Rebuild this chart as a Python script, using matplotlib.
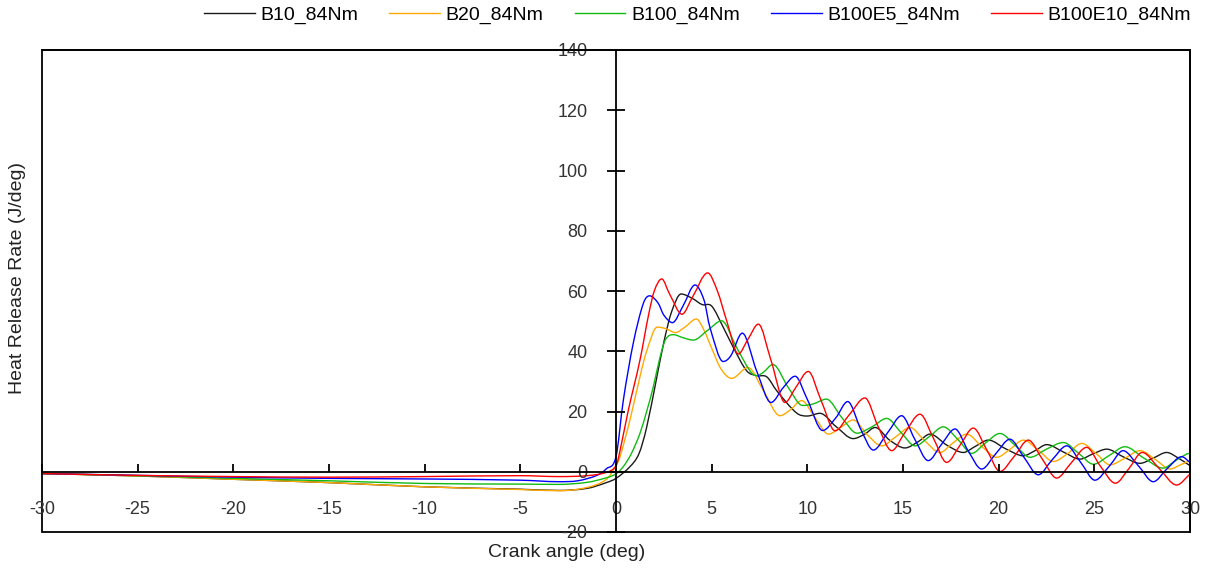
import matplotlib

matplotlib.use("Agg")

import numpy as np
from matplotlib import pyplot as plt
from matplotlib.lines import Line2D
from matplotlib.patches import PathPatch, Rectangle
from matplotlib.path import Path

plt.rcParams.update(
    {
        "font.family": ["Liberation Sans", "DejaVu Sans"],
        "font.size": 13,
        "axes.unicode_minus": False,
    }
)

# crank angle (deg) / heat release rate (J/deg)
b10_x = [-30, -25, -20, -15, -10, -5, -3, -1.5, -0.5, 0, 0.73, 1.2, 1.6, 2.13, 2.5, 2.9,
         3.4, 4.0, 4.5, 5.0, 5.61, 6.13, 6.83, 7.35, 7.88, 8.4, 9.44, 10.0, 10.66, 11.5,
         12.4, 13.0, 13.54, 14.3, 15.1, 15.8, 16.41, 17.3, 18.15, 18.8, 19.46, 20.4,
         21.29, 21.9, 22.51, 23.4, 24.25, 24.95, 25.65, 26.5, 27.39, 28.1, 28.78, 29.4, 30]
b10_y = [-0.6, -1.4, -2.5, -3.6, -5.0, -5.8, -6.2, -5.5, -3.6, -2.2, 1.7, 6, 14.7, 31.3, 43, 53,
         59.0, 57.5, 55.5, 55.0, 47.9, 41.3, 33.5, 31.9, 31.5, 26.9, 19.5, 18.5, 19.4, 15,
         11.0, 12.5, 14.7, 10.5, 7.9, 10, 12.5, 8.8, 6.4, 8.5, 10.5, 7.5,
         5.3, 7, 9.0, 6.5, 4.2, 6, 7.5, 5, 2.8, 4.6, 6.4, 4.5, 2.0]

b20_x = [-30, -25, -20, -15, -10, -5, -3, -1.5, -0.5, 0, 0.21, 0.73, 1.25, 1.6, 2.15, 2.6,
         3.1, 3.6, 4.2, 4.6, 5.0, 5.5, 6.05, 6.9, 7.7, 8.57, 9.1, 9.7, 10.4, 11.1, 11.8,
         12.4, 13.1, 13.89, 14.6, 15.37, 16.1, 16.93, 17.6, 18.33, 19.1, 19.9, 20.6, 21.29,
         22.1, 22.86, 23.6, 24.34, 25.1, 25.82, 26.6, 27.39, 28.2, 28.96, 29.5, 30]
b20_y = [-0.6, -1.4, -2.5, -3.6, -5.0, -5.9, -6.3, -5.2, -2.5, 2.0, 5, 17.2, 31.5, 40, 48.0, 47.5,
         46.2, 48, 50.7, 47, 41, 34, 31.0, 34.6, 27, 18.6, 20.5, 23.6, 18, 12.5, 15,
         17.2, 12.5, 8.6, 11.5, 14.7, 10.5, 6.4, 9.5, 12.5, 8.5, 4.8, 7.5, 10.5,
         7, 3.4, 6, 9.4, 6, 2.3, 4.5, 7.0, 4, 0.9, 2.3, 3.7]

b100_x = [-30, -25, -20, -15, -10, -5, -3, -1.5, -0.5, 0, 0.38, 0.8, 1.25, 1.6, 1.95, 2.3,
          2.6, 3.0, 3.5, 4.04, 4.8, 5.52, 6.3, 7.0, 7.35, 7.7, 8.2, 9.0, 9.75, 10.3, 11.0,
          11.8, 12.6, 13.4, 14.15, 14.9, 15.63, 16.4, 17.1, 17.9, 18.59, 19.3, 20.07, 20.9,
          21.64, 22.5, 23.38, 24.2, 24.95, 25.8, 26.6, 27.6, 28.6, 29.2, 29.83, 30]
b100_y = [-0.6, -1.3, -2.2, -3.0, -3.9, -4.1, -4.2, -3.5, -2, -0.7, 1.7, 6, 12.7, 20, 28.2, 38,
          44, 45.5, 44.5, 43.7, 47, 50.1, 41.3, 33.5, 31.9, 33, 35.6, 28, 22, 22.5, 24.1,
          18, 12.8, 15, 17.7, 13, 8.6, 11.8, 14.9, 10.5, 6.1, 9.5, 12.7, 8.5,
          4.8, 7.5, 9.7, 6, 2.5, 5.5, 8.3, 4.5, 1.2, 3.5, 5.9, 6.0]

b100e5_x = [-30, -25, -20, -15, -10, -5, -3, -2, -1, -0.5, 0, 0.38, 0.9, 1.43, 1.76, 2.2,
            2.5, 2.95, 3.5, 4.13, 4.6, 4.91, 5.6, 6.0, 6.6, 7.35, 8.1, 8.75, 9.36, 10.0,
            10.8, 11.5, 12.11, 12.8, 13.45, 14.2, 14.93, 15.6, 16.32, 17.0, 17.72, 18.4,
            19.11, 19.85, 20.59, 21.3, 22.07, 22.8, 23.56, 24.3, 25.03, 25.8, 26.5, 27.3,
            28.08, 28.8, 29.57, 30]
b100e5_y = [-0.6, -1.2, -1.8, -2.2, -2.4, -2.8, -3.3, -3.0, -1.2, 1.0, 5.0, 23.6, 42.6, 55.9, 58.4, 56,
            52, 49.5, 55, 62, 57, 47.9, 36.6, 38.5, 46.0, 33.5, 23, 28, 31.7, 24,
            13.7, 18, 23.3, 14, 7.2, 13, 18.6, 11, 3.7, 9, 14.2, 7,
            0.9, 6, 10.8, 5, -1.0, 4, 8.6, 3, -2.8, 2, 7.0, 2,
            -3.3, 1, 5.0, 3.1]

b100e10_x = [-30, -25, -20, -15, -10, -5, -3, -1.5, -0.5, 0, 0.21, 0.64, 1.25, 1.7, 2.0,
             2.39, 2.8, 3.45, 4.0, 4.79, 5.3, 5.79, 6.39, 6.9, 7.44, 8.1, 8.83, 9.4, 10.05,
             10.7, 11.45, 12.2, 13.01, 13.7, 14.41, 15.1, 15.89, 16.6, 17.28, 18.0, 18.67,
             19.4, 20.07, 20.8, 21.55, 22.3, 23.03, 23.8, 24.6, 25.3, 26.1, 26.8, 27.5,
             28.4, 29.3, 30]
b100e10_y = [-0.6, -1.2, -1.6, -1.8, -1.6, -1.3, -1.6, -1.3, -0.2, 2.0, 7, 20.3, 37, 52, 60,
             64, 59, 52.3, 58, 66, 60, 50, 39.1, 44, 49, 37, 23, 28, 33.3,
             24, 13.6, 19, 24.5, 15, 7, 13, 19.1, 11, 3.1, 9, 14.5,
             7, 0.1, 5, 10.5, 4, -2.1, 3, 8.1, 2, -3.8, 1, 6.4,
             1, -4.4, -0.8]

series = [
    ("B10_84Nm", b10_x, b10_y, "#1a1a1a"),
    ("B20_84Nm", b20_x, b20_y, "#ffaa00"),
    ("B100_84Nm", b100_x, b100_y, "#11bb11"),
    ("B100E5_84Nm", b100e5_x, b100e5_y, "#0000ff"),
    ("B100E10_84Nm", b100e10_x, b100e10_y, "#ff0000"),
]


def smooth_path(x, y):
    # smoothed line through the points (bezier segments, like the spreadsheet's "smoothed line")
    x = np.asarray(x, dtype=float)
    y = np.asarray(y, dtype=float)
    n = len(x)
    slope = np.zeros(n)
    for i in range(n):
        if i == 0:
            slope[i] = (y[1] - y[0]) / (x[1] - x[0])
        elif i == n - 1:
            slope[i] = (y[-1] - y[-2]) / (x[-1] - x[-2])
        elif (y[i] - y[i - 1]) * (y[i + 1] - y[i]) <= 0:
            slope[i] = 0.0
        else:
            slope[i] = (y[i + 1] - y[i - 1]) / (x[i + 1] - x[i - 1])
    verts = [(x[0], y[0])]
    codes = [Path.MOVETO]
    for i in range(n - 1):
        h = x[i + 1] - x[i]
        verts += [
            (x[i] + h / 3, y[i] + slope[i] * h / 3),
            (x[i + 1] - h / 3, y[i + 1] - slope[i + 1] * h / 3),
            (x[i + 1], y[i + 1]),
        ]
        codes += [Path.CURVE4] * 3
    return Path(verts, codes)


fig = plt.figure(figsize=(12.08, 5.75), dpi=100)
ax = fig.add_axes([42 / 1208, 43 / 575, 1148 / 1208, 482 / 575])

handles = []
for name, xs, ys, color in series:
    ax.add_patch(PathPatch(smooth_path(xs, ys), facecolor="none", edgecolor=color, linewidth=1.0))
    handles.append(Line2D([], [], color=color, linewidth=1.0, label=name))

ax.set_xlim(-30, 30)
ax.set_ylim(-20, 140)
ax.set_xticks(np.arange(-30, 31, 5))
ax.set_yticks(np.arange(-20, 141, 20))

ax.spines["left"].set_position(("data", 0))
ax.spines["bottom"].set_position(("data", 0))
for spine in ax.spines.values():
    spine.set_linewidth(1.3)
ax.add_patch(Rectangle((0, 0), 1, 1, transform=ax.transAxes, fill=False,
                       edgecolor="black", linewidth=1.3, clip_on=False))

ax.tick_params(axis="x", direction="in", length=6, width=1.3, pad=21, labelcolor="#333333")
ax.tick_params(axis="y", direction="inout", length=13, width=1.3, pad=14, labelcolor="#333333")

ax.set_xlabel("Crank angle (deg)", color="#222222", fontsize=14)
ax.xaxis.set_label_coords(0.457, -0.025)
ax.set_ylabel("Heat Release Rate (J/deg)", color="#222222", fontsize=14)
ax.yaxis.set_label_coords(-0.014, 0.527)

fig.legend(
    handles=handles,
    ncol=5,
    loc="center right",
    bbox_to_anchor=(1191 / 1208, 1 - 15 / 575),
    frameon=False,
    fontsize=14,
    handlelength=2.6,
    handletextpad=0.3,
    columnspacing=1.6,
    borderpad=0,
    borderaxespad=0,
)

fig.savefig("out.png", dpi=100)
plt.close(fig)
